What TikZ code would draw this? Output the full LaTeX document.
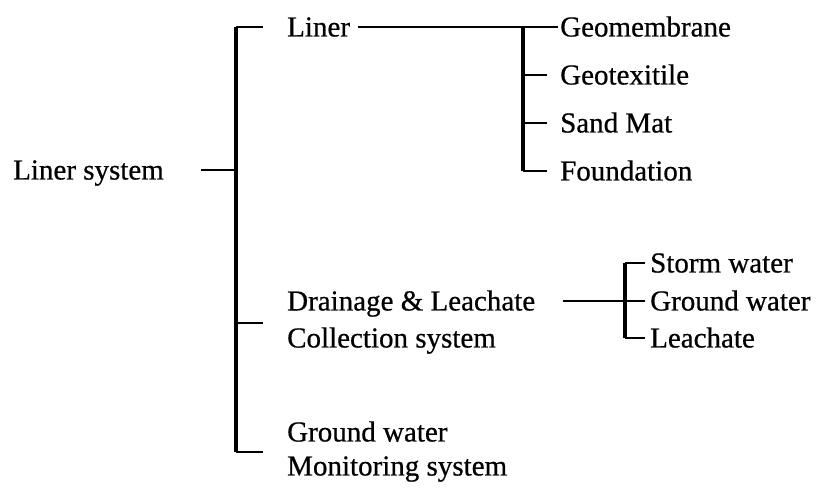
\documentclass[tikz,border=0pt]{standalone}
\usepackage{fontspec}
\setmainfont{Liberation Serif}[FakeBold=0.6]
\usetikzlibrary{positioning}

\begin{document}
\begin{tikzpicture}[
    x=1pt, y=1pt,
    font=\fontsize{29}{35}\selectfont,
    lbl/.style  ={anchor=west, inner sep=0pt, text height=19pt, text depth=0pt},
    bar/.style  ={line width=3.2pt},
    tick/.style ={line width=1.1pt},
]
\useasboundingbox (0,0) rectangle (822,502);

% =============== Root ===============
\node[lbl] at (13,332) (sys) {Liner system};

% =============== First level ===============
\node[lbl] at (287,475) (liner) {Liner};
\node[lbl] at (287,201) (drain) {Drainage \& Leachate};
\node[lbl, below=37pt of drain.west, anchor=west] (coll) {Collection system};
\node[lbl] at (287,70)  (gwm)   {Ground water};
\node[lbl, below=34pt of gwm.west, anchor=west] (mon) {Monitoring system};

% =============== Liner layers ===============
\node[lbl] at (560,475) (gm) {Geomembrane};
\node[lbl, below=48pt of gm.west, anchor=west] (gt) {Geotexitile};
\node[lbl, below=48pt of gt.west, anchor=west] (sm) {Sand Mat};
\node[lbl, below=48pt of sm.west, anchor=west] (fd) {Foundation};

% =============== Drainage branches ===============
\node[lbl] at (650,239) (sw)  {Storm water};
\node[lbl, below=38pt of sw.west,  anchor=west] (gwr) {Ground water};
\node[lbl, below=37pt of gwr.west, anchor=west] (lch) {Leachate};

% =============== Main bracket ===============
\coordinate (mtop) at (236,475);
\coordinate (mbot) at (236,50);
\draw[bar] (mtop) -- (mbot);
\draw[tick] (mtop) -- ++(27,0);
\draw[tick] (mbot) -- ++(27,0);
\draw[tick] (mtop |- 0,179) -- ++(27,0);
\draw[tick] (sys.east) ++(37,0) -- (mtop |- sys.east);

% =============== Liner bracket ===============
\coordinate (ltop) at (523,475);
\draw[bar] (ltop) -- (ltop |- fd.west);
\draw[tick] ([xshift=8pt]liner.east) -- ([xshift=-2pt]gm.west);
\foreach \n in {gt, sm, fd}{%
  \draw[tick] (ltop |- \n.west) -- ++(24,0);
}

% =============== Drainage bracket ===============
\coordinate (dtop) at (625,239);
\draw[bar] (dtop) -- (dtop |- lch.west);
\draw[tick] ([xshift=28pt]drain.east) -- (dtop |- drain.east);
\foreach \n in {sw, gwr, lch}{%
  \draw[tick] (dtop |- \n.west) -- ++(20,0);
}

\end{tikzpicture}
\end{document}
